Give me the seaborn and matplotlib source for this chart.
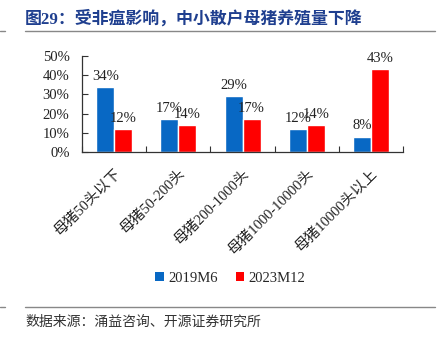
import matplotlib
matplotlib.use("Agg")
import matplotlib.pyplot as plt
import seaborn as sns
import pandas as pd
from matplotlib.patches import Patch
from matplotlib.lines import Line2D

categories = ["母猪50头以下", "母猪50-200头", "母猪200-1000头", "母猪1000-10000头", "母猪10000头以上"]
series_names = ["2019M6", "2023M12"]
values_2019 = [34, 17, 29, 12, 8]
values_2023 = [12, 14, 17, 14, 43]
yticks = [0, 10, 20, 30, 40, 50]
title = "图29：受非瘟影响，中小散户母猪养殖量下降"
source = "数据来源：涌益咨询、开源证券研究所"
colors = ["#0868C4", "#FF0000"]

df = pd.DataFrame({
    "cat": categories * 2,
    "series": [series_names[0]] * 5 + [series_names[1]] * 5,
    "val": values_2019 + values_2023,
})

sns.set_theme(style="white")
plt.rcParams["font.family"] = ["Liberation Serif", "Noto Sans CJK SC"]
plt.rcParams["axes.unicode_minus"] = False

fig = plt.figure(figsize=(4.39, 3.37), dpi=100)
ax = fig.add_axes([0.187, 0.549, 0.731, 0.285])

sns.barplot(data=df, x="cat", y="val", hue="series", palette=colors,
            width=0.56, ax=ax, legend=False, saturation=1)

for cont in ax.containers:
    ax.bar_label(cont, labels=[f"{v:.0f}%" for v in cont.datavalues],
                 padding=3, fontsize=10.5, color="#222222")

ax.set_xlim(-0.5, 4.5)
ax.set_ylim(0, 50)
ax.set_yticks(yticks)
ax.set_yticklabels([f"{t}%" for t in yticks], fontsize=10.5, color="#222222")
ax.set_xlabel("")
ax.set_ylabel("")

ax.set_xticks(range(5))
ax.set_xticklabels(categories, rotation=45, ha="right", va="top",
                   rotation_mode="anchor", fontsize=10.5, color="#222222")
ax.tick_params(axis="x", which="major", length=0, pad=11)
ax.set_xticks([i - 0.5 for i in range(6)], minor=True)
ax.tick_params(axis="x", which="minor", direction="in", length=4, width=0.8, color="#333333", bottom=True)
ax.tick_params(axis="y", direction="in", length=4, width=0.8, color="#333333", left=True, pad=9)

for s in ["top", "right"]:
    ax.spines[s].set_visible(False)
for s in ["left", "bottom"]:
    ax.spines[s].set_color("#333333")
    ax.spines[s].set_linewidth(0.9)

handles = [Patch(facecolor=colors[0], edgecolor="none"),
           Patch(facecolor=colors[1], edgecolor="none")]
fig.legend(handles, series_names, loc="center", bbox_to_anchor=(0.525, 0.175),
           ncol=2, frameon=False, fontsize=10.5, handlelength=0.6, handleheight=0.6,
           handletextpad=0.3, columnspacing=1.2)

fig.text(0.057, 0.945, title, fontsize=12.2, fontweight="bold", color="#1F3F8F",
         ha="left", va="center")
fig.text(0.057, 0.043, source, fontsize=10, color="#333333", ha="left", va="center")

for y in [0.908, 0.089]:
    fig.add_artist(Line2D([0.057, 0.99], [y, y], color="#888888", lw=1.0, transform=fig.transFigure))
    fig.add_artist(Line2D([0.0, 0.012], [y, y], color="#888888", lw=1.0, transform=fig.transFigure))

fig.savefig("out.png", dpi=100)
